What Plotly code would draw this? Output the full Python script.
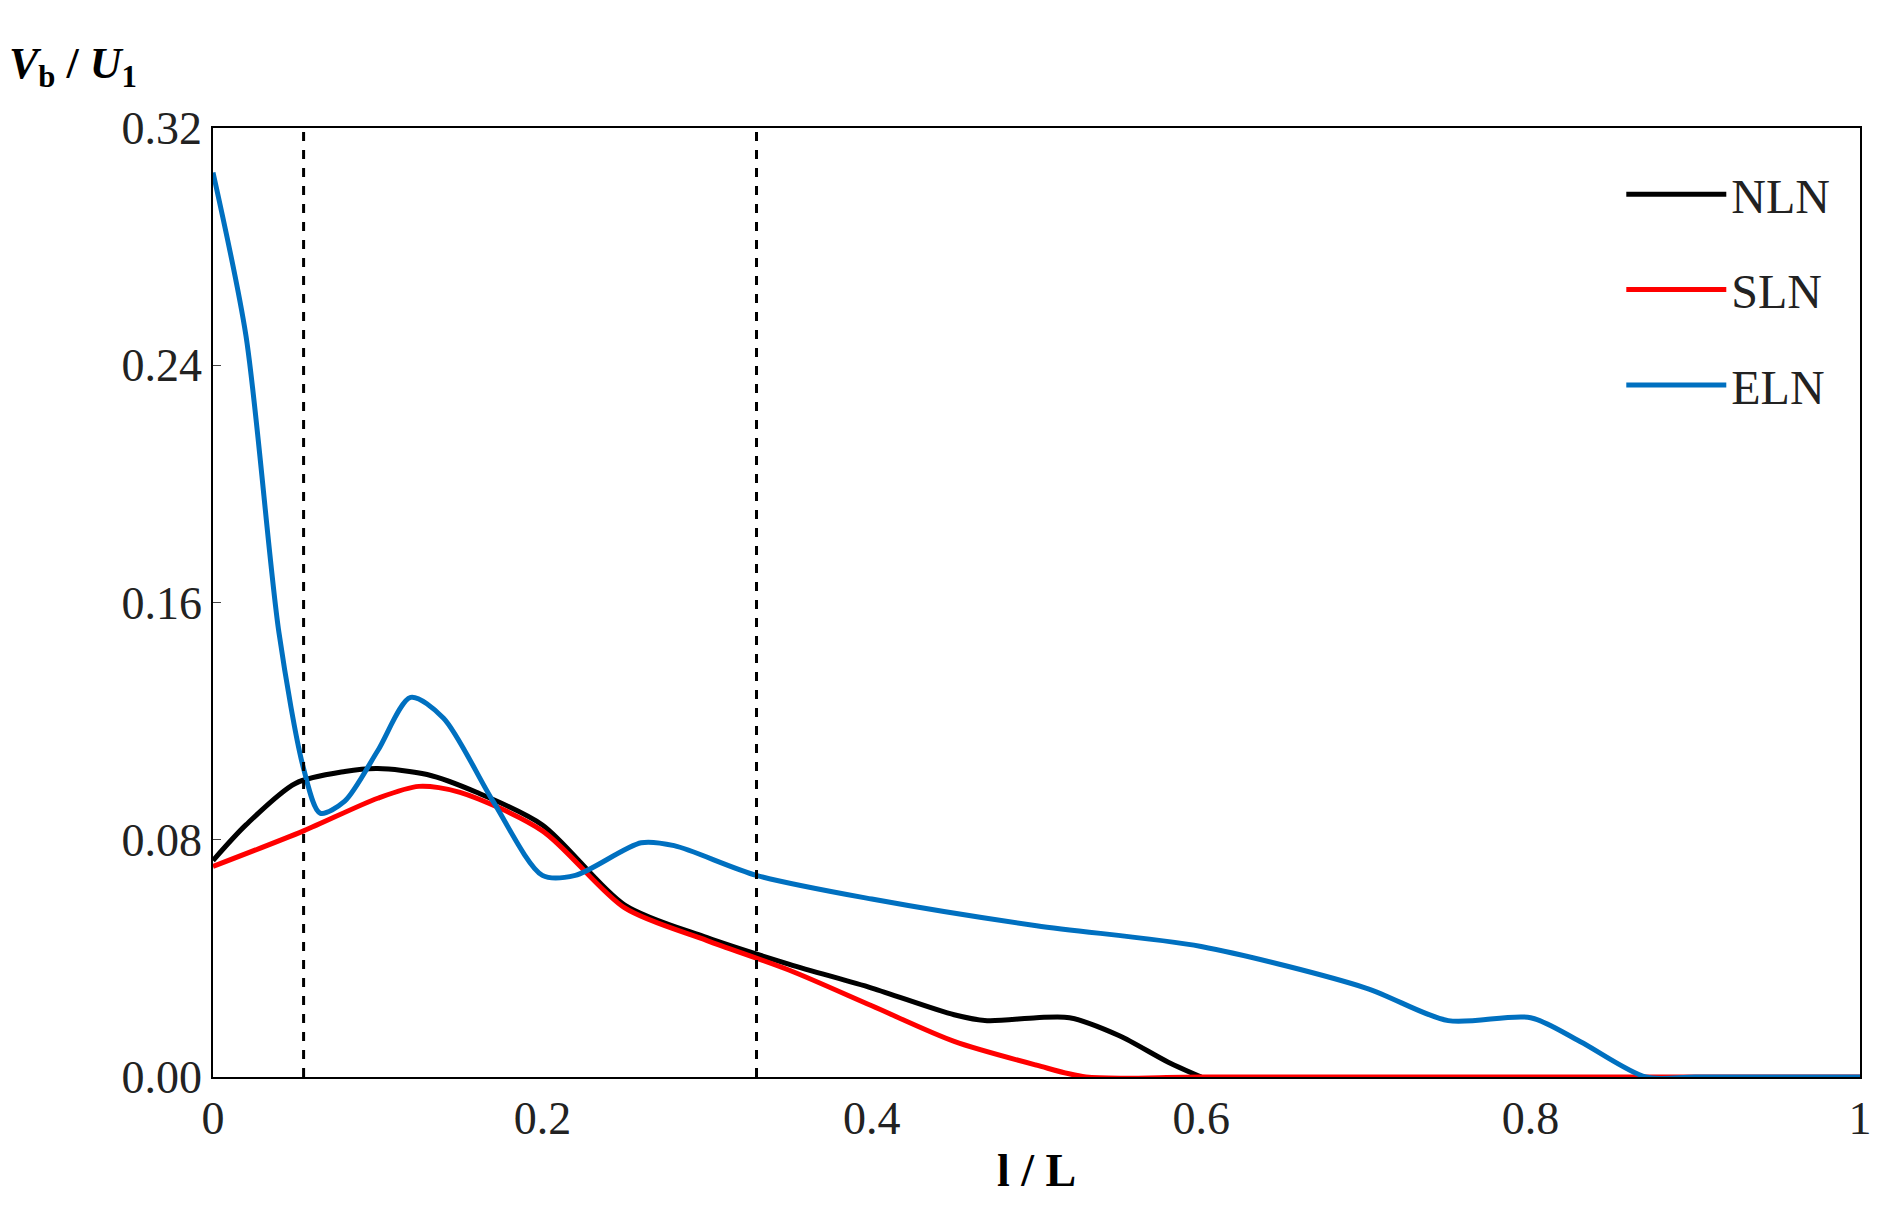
import plotly.graph_objects as go

nln_x = [0, 0.02, 0.05, 0.08, 0.1, 0.13, 0.16, 0.2, 0.25, 0.3, 0.35, 0.4, 0.45, 0.47, 0.5, 0.52, 0.55, 0.58, 0.6]
nln_y = [0.073, 0.085, 0.099, 0.103, 0.104, 0.102, 0.096, 0.085, 0.058, 0.047, 0.038, 0.030, 0.021, 0.019, 0.020, 0.020, 0.014, 0.005, 0.0]
sln_x = [0, 0.055, 0.1, 0.125, 0.15, 0.2, 0.25, 0.3, 0.35, 0.4, 0.45, 0.5, 0.53, 0.6, 0.8, 1.0]
sln_y = [0.071, 0.083, 0.094, 0.098, 0.096, 0.083, 0.057, 0.046, 0.036, 0.024, 0.012, 0.004, 0.0, 0.0, 0.0, 0.0]
eln_x = [0, 0.02, 0.04, 0.055, 0.065, 0.08, 0.1, 0.12, 0.14, 0.17, 0.2, 0.22, 0.26, 0.28, 0.33, 0.4, 0.5, 0.6, 0.7, 0.75, 0.8, 0.83, 0.87, 0.9, 1.0]
eln_y = [0.305, 0.25, 0.15, 0.104, 0.089, 0.093, 0.11, 0.128, 0.121, 0.093, 0.068, 0.068, 0.079, 0.078, 0.068, 0.060, 0.051, 0.044, 0.030, 0.019, 0.020, 0.012, 0.0, 0.0, 0.0]
vlines = [0.055, 0.33]
font = "Liberation Serif"

fig = go.Figure()
for name, xs, ys, c in [("NLN", nln_x, nln_y, "black"), ("SLN", sln_x, sln_y, "#ff0000"), ("ELN", eln_x, eln_y, "#0070c0")]:
    fig.add_trace(go.Scatter(x=xs, y=ys, name=name, mode="lines", legendgroup=name,
                             line=dict(color=c, width=5, shape="spline", smoothing=0.8)))
for v in vlines:
    fig.add_shape(type="line", x0=v, x1=v, y0=0, y1=0.32, xref="x", yref="y",
                  line=dict(color="black", width=3, dash="dash"))
fig.update_layout(
    width=1895, height=1215, plot_bgcolor="white", paper_bgcolor="white",
    margin=dict(l=205, r=43, t=120, b=146),
    font=dict(family=font, size=46, color="#222"),
    xaxis=dict(range=[0, 1], tickvals=[0, 0.2, 0.4, 0.6, 0.8, 1], ticktext=["0", "0.2", "0.4", "0.6", "0.8", "1"],
               showgrid=False, zeroline=False, showline=True, linecolor="black", linewidth=1.5, mirror=True,
               ticks="", ticklen=0),
    yaxis=dict(range=[0, 0.32], tickvals=[0, 0.08, 0.16, 0.24, 0.32], tickformat=".2f",
               showgrid=False, zeroline=False, showline=True, linecolor="black", linewidth=1.5, mirror=True,
               ticks="inside", ticklen=8),
    legend=dict(x=0.985, y=0.97, xanchor="right", yanchor="top", bgcolor="rgba(0,0,0,0)",
                font=dict(size=48), itemwidth=100, tracegroupgap=30),
    showlegend=True,
    annotations=[
        dict(text="<b><i>V</i></b><b><sub>b</sub></b><b> / </b><b><i>U</i></b><b><sub>1</sub></b>", xref="paper", yref="paper",
             x=-0.125, y=1.065, xanchor="left", yanchor="middle", showarrow=False, font=dict(size=44, color="black")),
        dict(text="<b>l / L</b>", xref="paper", yref="paper", x=0.5, y=-0.07, xanchor="center", yanchor="top",
             showarrow=False, font=dict(size=46, color="black")),
    ],
)
fig.write_html("out.html")
